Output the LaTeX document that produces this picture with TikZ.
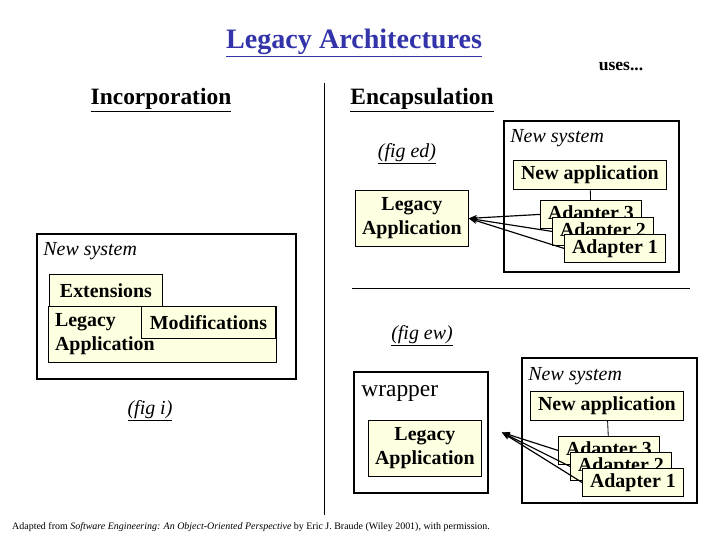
\documentclass[tikz,border=0pt]{standalone}
\usepackage{fontspec}
\setmainfont{Liberation Serif}
\usepackage{tikz}
\usetikzlibrary{arrows.meta, positioning}

\definecolor{cream}{RGB}{255,255,225}
\definecolor{titleblue}{RGB}{51,51,170}

\begin{document}
\begin{tikzpicture}[
    x=0.03cm, y=-0.03cm,
    box/.style={draw, fill=cream, line width=0.7pt, inner sep=2pt, align=center, font=\fontsize{17}{20.5}\selectfont\bfseries},
    sysbox/.style={draw, line width=1.6pt, anchor=north west},
    heading/.style={font=\fontsize{20}{24}\selectfont\bfseries},
    note/.style={inner sep=1pt, font=\fontsize{17}{20}\selectfont\itshape},
    adapter/.style={box, anchor=north west, minimum width=3.03cm, minimum height=0.84cm},
    arrow/.style={-{Stealth[length=2.5mm]}, line width=1pt}
]
    \useasboundingbox (0,0) rectangle (720,540);

    \node[font=\fontsize{24}{28}\selectfont\bfseries, text=titleblue] (title) at (354,43) {\underline{Legacy Architectures}};
    \node[font=\fontsize{15}{18}\selectfont\bfseries] (uses) at (621,66) {uses...};
    \node[heading] (incorp) at (161,100) {\underline{Incorporation}};
    \node[heading] (encap) at (422,100) {\underline{Encapsulation}};

    \draw[line width=0.6pt] (324,83) -- (324,515);
    \draw[line width=0.6pt] (352,288) -- (690,288);

    \node[sysbox, minimum width=7.77cm, minimum height=4.35cm] (sysi) at (36,233) {};
    \node[note, anchor=west] (sysilab) at (42,251) {New system};
    \node[box, anchor=north west, minimum width=3.39cm, minimum height=0.96cm] (ext) at (49,274) {Extensions};
    \node[box, anchor=north west, text width=6.45cm, align=left, inner xsep=0.2cm, minimum height=1.68cm] (legi) at (48,306) {Legacy\\Application};
    \node[box, anchor=north west, minimum width=4.02cm, minimum height=0.96cm] (mods) at (141,306) {Modifications};
    \node[note] (figi) at (150,411) {\underline{(fig i)}};

    \node[note] (figed) at (407,154) {\underline{(fig ed)}};
    \node[box, anchor=north west, minimum width=3.39cm, minimum height=1.68cm] (lege) at (355,190) {Legacy\\Application};
    \node[sysbox, minimum width=5.25cm, minimum height=4.53cm] (syse) at (503,120) {};
    \node[note, anchor=west] (syselab) at (509,138) {New system};
    \node[box, anchor=north west, minimum width=4.59cm, minimum height=0.87cm] (appe) at (513,160) {New application};
    \node[adapter] (adp3e) at (540,200) {Adapter 3};
    \node[adapter, below right=0.51cm and 0.36cm of adp3e.north west] (adp2e) {Adapter 2};
    \node[adapter, below right=0.51cm and 0.36cm of adp2e.north west] (adp1e) {Adapter 1};
    \draw[line width=0.7pt] (appe) -- (adp3e);
    \draw[arrow] (adp3e.west) -- (lege.east);
    \draw[arrow] (adp2e.west) -- (lege.east);
    \draw[arrow] (adp1e.west) -- (lege.east);

    \node[note] (figew) at (422,336) {\underline{(fig ew)}};
    \node[sysbox, minimum width=4.02cm, minimum height=3.63cm] (wrap) at (353,371) {};
    \node[anchor=west, inner sep=1pt, font=\fontsize{20}{24}\selectfont] (wraplab) at (360,393) {wrapper};
    \node[box, anchor=north west, minimum width=3.39cm, minimum height=1.68cm] (legw) at (368,420) {Legacy\\Application};
    \node[sysbox, minimum width=5.25cm, minimum height=4.35cm] (sysw) at (521,357) {};
    \node[note, anchor=west] (syswlab) at (527,376) {New system};
    \node[box, anchor=north west, minimum width=4.59cm, minimum height=0.87cm] (appw) at (530,391) {New application};
    \node[adapter] (adp3w) at (558,436) {Adapter 3};
    \node[adapter, below right=0.48cm and 0.36cm of adp3w.north west] (adp2w) {Adapter 2};
    \node[adapter, below right=0.48cm and 0.36cm of adp2w.north west] (adp1w) {Adapter 1};
    \coordinate[right=0.39cm of wrap.east] (tipw);
    \draw[line width=0.7pt] (appw) -- (adp3w);
    \draw[arrow] (adp3w.west) -- (tipw);
    \draw[arrow] (adp2w.west) -- (tipw);
    \draw[arrow] (adp1w.west) -- (tipw);

    \node[anchor=west, inner sep=0pt, font=\fontsize{8.5}{10}\selectfont] (credit) at (12,527) {Adapted from \textit{Software Engineering: An Object-Oriented Perspective} by Eric J. Braude (Wiley 2001), with permission.};
\end{tikzpicture}
\end{document}
